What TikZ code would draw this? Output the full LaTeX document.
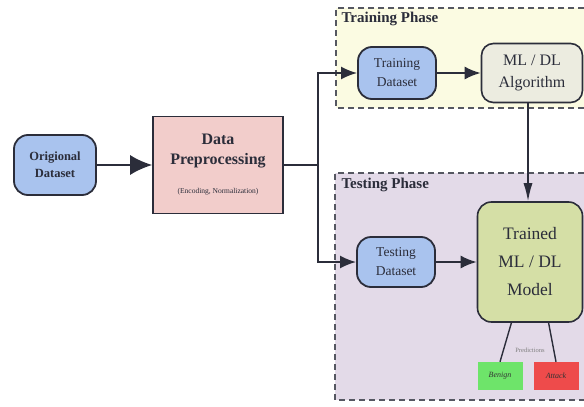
\documentclass[tikz,border=0pt]{standalone}
\usepackage{fontspec}
\setmainfont{Liberation Serif}
\usepackage{xcolor}
\usetikzlibrary{arrows.meta,positioning,calc}
\definecolor{inkDark}{HTML}{2B2D3A}
\definecolor{dataBlue}{HTML}{A9C3EE}
\definecolor{prepPink}{HTML}{F2CDCB}
\definecolor{algoGray}{HTML}{ECECE0}
\definecolor{modelGreen}{HTML}{D5DFA6}
\definecolor{trainBg}{HTML}{FBFBE2}
\definecolor{testBg}{HTML}{E3DAE8}
\definecolor{benignGreen}{HTML}{6EE46A}
\definecolor{attackRed}{HTML}{EE4B4B}
\newcommand{\fsz}[2]{\fontsize{#1}{#2}\selectfont}

\begin{document}
\begin{tikzpicture}[
    x=1pt,y=-1pt,
    >={Latex[length=16pt,width=13pt]},
    data/.style={rectangle,rounded corners=14pt,draw=inkDark,fill=dataBlue,
                 line width=1.8pt,align=center,text=inkDark},
    box/.style={rectangle,draw=inkDark,line width=1.6pt,align=center,
                text=inkDark},
    arr/.style={->,line width=2pt,inkDark},
    phase/.style={dashed,dash pattern=on 6pt off 4pt,line width=1.8pt,inkDark!80},
    tag/.style={font=\fsz{15}{18}\bfseries,text=inkDark,anchor=north west},
    verdict/.style={rectangle,minimum width=45pt,minimum height=28pt,
                font=\fsz{8}{10}\itshape,text=black!80}
  ]
  \useasboundingbox (0,0) rectangle (584,407);
  %% Phase backgrounds
  \fill[trainBg] (336,8) rectangle (584,108);
  \fill[testBg] (335,173) rectangle (584,400);
  \draw[phase] (584,8) -- (336,8) -- (336,108) -- (584,108);
  \draw[phase] (584,173) -- (335,173) -- (335,400) -- (584,400);
  \node[tag] (traintag) at (338,9) {Training Phase};
  \node[tag] (testtag) at (338,175) {Testing Phase};
  %% Input side
  \node[data,minimum width=82pt,minimum height=60pt,font=\fsz{12.5}{17}\bfseries]
    (orig) at (55,165) {Origional\\Dataset};
  \node[box,fill=prepPink,minimum width=130pt,minimum height=97pt]
    (prep) at (218,165)
    {{\fsz{16}{19}\bfseries Data}\\[8pt]{\fsz{16}{19}\bfseries Preprocessing}\\[17pt]{\fsz{7.5}{9}(Encoding, Normalization)}};
  \coordinate (split) at (318,165);
  \coordinate (drop) at (528,0);
  %% Training phase
  \node[data,minimum width=78pt,minimum height=52pt,font=\fsz{13.5}{19}]
    (trainset) at (397,73) {Training\\Dataset};
  \node[box,fill=algoGray,rounded corners=12pt,minimum width=101pt,
        minimum height=59pt,font=\fsz{16}{22}]
    (algo) at (532,73) {ML / DL\\Algorithm};
  %% Testing phase
  \node[data,minimum width=78pt,minimum height=50pt,font=\fsz{13.5}{19}]
    (testset) at (396,262) {Testing\\Dataset};
  \node[box,fill=modelGreen,rounded corners=14pt,minimum width=105pt,
        minimum height=120pt,font=\fsz{17.5}{28}]
    (model) at (530,262) {Trained\\ML / DL\\Model};
  \node[verdict,fill=benignGreen] (benign) at (500,376) {Benign};
  \node[verdict,fill=attackRed] (attack) at (556,376) {Attack};
  \node[font=\fsz{6.5}{8},text=black!50] (pred) at (530,350) {Predictions};
  %% Connectors
  \draw[arr,-{Latex[length=22pt,width=20pt]}] (orig) -- (prep);
  \draw[line width=2pt,inkDark] (prep.east) -- (split);
  \draw[arr] (split) |- (trainset.west);
  \draw[arr] (split) |- (testset.west);
  \draw[arr] (trainset) -- (algo);
  \draw[arr] (testset) -- (model);
  \draw[arr,line width=1.4pt,-{Latex[length=18pt,width=9pt]}]
    (algo.south -| drop) -- (model.north -| drop);
  \draw[line width=1.4pt,inkDark] (model.-107) -- (benign.north);
  \draw[line width=1.4pt,inkDark] (model.-73) -- (attack.north);
\end{tikzpicture}
\end{document}
